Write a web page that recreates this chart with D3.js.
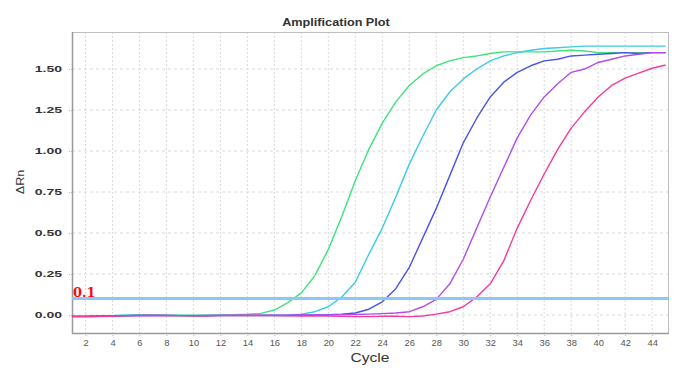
<!DOCTYPE html>
<html><head><meta charset="utf-8">
<script src="https://cdn.jsdelivr.net/npm/d3@7"></script>
<style>body{margin:0;background:#fff;} svg{display:block;font-family:"Liberation Sans",Arial,sans-serif;}</style>
</head><body>
<svg id="c" width="680" height="374"></svg>
<script>
const cycles = [1,2,3,4,5,6,7,8,9,10,11,12,13,14,15,16,17,18,19,20,21,22,23,24,25,26,27,28,29,30,31,32,33,34,35,36,37,38,39,40,41,42,43,44,45];
const seriesNames = ["Green","Cyan","Blue","Purple","Pink"];
const seriesColors = ["#3de37c","#3ccbe8","#4b52ec","#b04cf0","#f03c9c"];
const green = [-0.010,-0.010,-0.008,-0.005,-0.002,0.000,0.000,-0.002,-0.002,-0.001,-0.002,0.000,0.001,0.004,0.010,0.030,0.075,0.135,0.24,0.40,0.60,0.82,1.01,1.17,1.30,1.40,1.47,1.52,1.55,1.57,1.58,1.595,1.605,1.605,1.605,1.605,1.61,1.615,1.61,1.60,1.60,1.60,1.60,1.60,1.60];
const cyan = [-0.008,-0.008,-0.006,-0.004,-0.002,0.000,0.000,-0.002,-0.003,-0.003,-0.003,-0.002,-0.002,-0.002,-0.002,-0.001,0.000,0.005,0.02,0.05,0.11,0.20,0.37,0.53,0.72,0.92,1.09,1.25,1.36,1.44,1.50,1.55,1.58,1.60,1.615,1.625,1.63,1.635,1.64,1.64,1.64,1.64,1.64,1.64,1.64];
const blue = [-0.008,-0.008,-0.006,-0.005,-0.004,-0.003,-0.003,-0.004,-0.004,-0.005,-0.005,-0.004,-0.004,-0.004,-0.004,-0.003,-0.003,-0.002,0.000,0.002,0.004,0.012,0.035,0.08,0.16,0.29,0.47,0.65,0.85,1.05,1.20,1.33,1.42,1.48,1.52,1.55,1.56,1.58,1.585,1.59,1.595,1.60,1.595,1.60,1.60];
const purple = [-0.010,-0.010,-0.009,-0.008,-0.006,-0.004,-0.003,-0.003,-0.004,-0.004,-0.003,-0.002,-0.002,-0.002,-0.002,-0.002,-0.001,0.000,0.000,0.000,0.002,0.003,0.005,0.008,0.012,0.02,0.05,0.095,0.19,0.34,0.53,0.72,0.90,1.08,1.22,1.33,1.41,1.48,1.50,1.54,1.56,1.58,1.59,1.60,1.60];
const pink = [-0.010,-0.010,-0.008,-0.006,-0.004,-0.003,-0.003,-0.003,-0.004,-0.005,-0.005,-0.004,-0.003,-0.003,-0.003,-0.004,-0.005,-0.006,-0.006,-0.007,-0.008,-0.010,-0.010,-0.008,-0.008,-0.010,-0.006,0.005,0.02,0.05,0.11,0.19,0.33,0.53,0.70,0.86,1.01,1.14,1.24,1.33,1.40,1.445,1.475,1.505,1.525];
const seriesValues = [green, cyan, blue, purple, pink];
const yTicks = [0, 0.25, 0.5, 0.75, 1.0, 1.25, 1.5];
const xTicks = [2,4,6,8,10,12,14,16,18,20,22,24,26,28,30,32,34,36,38,40,42,44];
const threshold = 0.1;
const thresholdLabel = "0.1";
const titleText = "Amplification Plot";
const xLabel = "Cycle";
const yLabel = "\u0394Rn";

const L = 72, R = 669, T = 32, B = 333;
const svg = d3.select("#c");
const x = d3.scaleLinear().domain([1, 45.25]).range([L, R]);
const y = d3.scaleLinear().domain([-0.11, 1.726]).range([B, T]);

function stretch(sel, k){ sel.each(function(){ const w=this.getComputedTextLength(); this.setAttribute("textLength", w*k); this.setAttribute("lengthAdjust","spacingAndGlyphs"); }); }

// grid
const g = svg.append("g");
g.selectAll(".vg").data(xTicks).join("line")
  .attr("x1", d=>x(d)).attr("x2", d=>x(d)).attr("y1", T).attr("y2", B)
  .attr("stroke", "#dadada").attr("stroke-dasharray", "2,2").attr("stroke-width", 1);
g.selectAll(".hg").data(yTicks).join("line")
  .attr("x1", L).attr("x2", R).attr("y1", d=>y(d)).attr("y2", d=>y(d))
  .attr("stroke", "#dadada").attr("stroke-dasharray", "3,3").attr("stroke-width", 1);

// frame
svg.append("line").attr("x1",L).attr("x2",R).attr("y1",T+0.5).attr("y2",T+0.5).attr("stroke","#bdbdbd");
svg.append("line").attr("x1",R-0.5).attr("x2",R-0.5).attr("y1",T).attr("y2",B).attr("stroke","#bdbdbd");

// axes
const yAxis = d3.axisLeft(y).tickValues(yTicks).tickFormat(d3.format(".2f")).tickSize(4).tickPadding(6);
const ya = svg.append("g").attr("transform", `translate(${L},0)`).call(yAxis);
ya.select(".domain").remove();
ya.selectAll(".tick line").attr("stroke","#bbb").attr("stroke-dasharray","1,1");
ya.selectAll("text").attr("font-size", 8.5).attr("fill","#333").attr("font-weight","bold").call(stretch, 1.65);

const xAxis = d3.axisBottom(x).tickValues(xTicks).tickFormat(d3.format("d")).tickSize(4).tickPadding(3);
const xa = svg.append("g").attr("transform", `translate(0,${B})`).call(xAxis);
xa.select(".domain").remove();
xa.selectAll(".tick line").attr("stroke","#bbb").attr("stroke-dasharray","1,1");
xa.selectAll("text").attr("font-size", 8.5).attr("fill","#555").call(stretch, 1.1);

svg.append("line").attr("x1",L+0.5).attr("x2",L+0.5).attr("y1",T).attr("y2",B+1).attr("stroke","#9a9a9a").attr("stroke-width",1.5);
svg.append("line").attr("x1",L).attr("x2",R).attr("y1",B+0.5).attr("y2",B+0.5).attr("stroke","#9a9a9a").attr("stroke-width",1.5);

// curves
const line = d3.line().x((d,i)=>x(cycles[i])).y(d=>y(d));
svg.append("g").selectAll("path").data(seriesValues).join("path")
  .attr("d", d=>line(d)).attr("fill","none")
  .attr("stroke",(d,i)=>seriesColors[i]).attr("stroke-width",1.4).attr("stroke-linejoin","round");

// threshold
svg.append("line").attr("x1",L).attr("x2",R).attr("y1",y(threshold)).attr("y2",y(threshold))
  .attr("stroke","#8cc8f6").attr("stroke-width",3);
svg.append("text").attr("x",L+1).attr("y",y(threshold)-2).text(thresholdLabel)
  .attr("font-family","'DejaVu Serif','Liberation Serif',serif").attr("font-weight","bold")
  .attr("font-size",13).attr("fill","#f01010");

// titles
svg.append("text").attr("x",336).attr("y",26).attr("text-anchor","middle").text(titleText)
  .attr("font-size",11).attr("font-weight","600").attr("fill","#333").call(stretch, 1.15);
svg.append("text").attr("x",370).attr("y",362).attr("text-anchor","middle").text(xLabel)
  .attr("font-size",12.5).attr("fill","#333").call(stretch, 1.25);
svg.append("text").attr("transform","translate(24,182) rotate(-90)").attr("text-anchor","middle").text(yLabel)
  .attr("font-size",11.5).attr("fill","#333").call(stretch, 1.1);
</script>
</body></html>
